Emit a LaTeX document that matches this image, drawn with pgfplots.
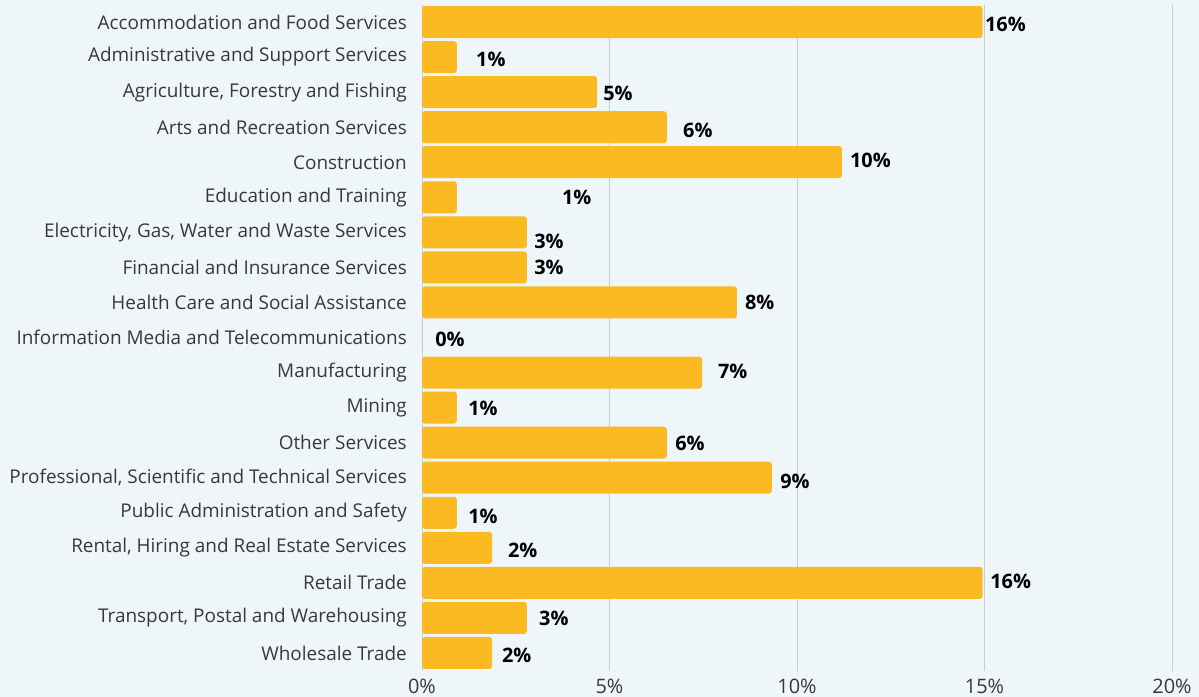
\documentclass[border=0pt]{standalone}
\usepackage{pgfplots}
\pgfplotsset{compat=1.18}
\usepackage{pgfplotstable}
\usepackage{fontspec}
\setmainfont{Open Sans}

\definecolor{bg}{HTML}{EFF6FA}
\definecolor{barc}{HTML}{FBB922}
\definecolor{gridc}{HTML}{C9CDD1}
\definecolor{txt}{HTML}{383838}

% bar values
\pgfplotstableread{
y  x
0  14.95
1  0.93
2  4.67
3  6.53
4  11.20
5  0.93
6  2.80
7  2.80
8  8.40
9  0.00
10 7.47
11 0.93
12 6.53
13 9.33
14 0.93
15 1.87
16 14.95
17 2.80
18 1.87
}\bars

% where the value labels sit
\pgfplotstableread{
y     x      lab
0.06  15.01  16\%
1.06  1.44   1\%
2.03  4.83   5\%
3.09  6.96   6\%
3.94  11.41  10\%
5.00  3.73   1\%
6.26  2.99   3\%
7.00  2.99   3\%
8.00  8.61   8\%
9.06  0.35   0\%
9.97  7.89   7\%
11.03 1.23   1\%
12.03 6.75   6\%
13.11 9.55   9\%
14.11 1.23   1\%
15.06 2.29   2\%
15.97 15.15  16\%
17.00 3.12   3\%
18.06 2.13   2\%
}\labels

\begin{document}
\begin{tikzpicture}
\path[fill=bg, use as bounding box] (-422bp,-26.5bp) rectangle (777bp,670.5bp);
\begin{axis}[
    scale only axis,
    width=750bp, height=666bp,
    xmin=0, xmax=20,
    ymin=-0.5, ymax=18.5,
    y dir=reverse,
    axis line style={draw=none},
    major tick length=0pt,
    xmajorgrids=true,
    grid style={gridc, line width=0.8bp},
    xtick={0,5,10,15,20},
    xticklabels={0\%,5\%,10\%,15\%,20\%},
    xticklabel style={font=\fontsize{20}{22}\selectfont, text=txt, anchor=center, inner sep=0pt, yshift=-15.5bp},
    ytick={0,...,18},
    yticklabels={
        Accommodation and Food Services,
        Administrative and Support Services,
        {Agriculture, Forestry and Fishing},
        Arts and Recreation Services,
        Construction,
        Education and Training,
        {Electricity, Gas, Water and Waste Services},
        Financial and Insurance Services,
        Health Care and Social Assistance,
        Information Media and Telecommunications,
        Manufacturing,
        Mining,
        Other Services,
        {Professional, Scientific and Technical Services},
        Public Administration and Safety,
        {Rental, Hiring and Real Estate Services},
        Retail Trade,
        {Transport, Postal and Warehousing},
        Wholesale Trade},
    yticklabel style={font=\fontsize{19}{22}\selectfont, text=txt, anchor=east, inner sep=0pt, xshift=-15bp},
    clip=false,
]
\addplot[xbar, bar width=32bp, fill=barc, draw=none, rounded corners=3bp] table[x=x, y=y] {\bars};
\addplot[draw=none, mark=none, nodes near coords, point meta=explicit symbolic,
    every node near coord/.append style={anchor=west, inner sep=0pt,
        font=\fontsize{20}{22}\selectfont\bfseries, text=black}]
    table[x=x, y=y, meta=lab] {\labels};
\end{axis}
\end{tikzpicture}
\end{document}
